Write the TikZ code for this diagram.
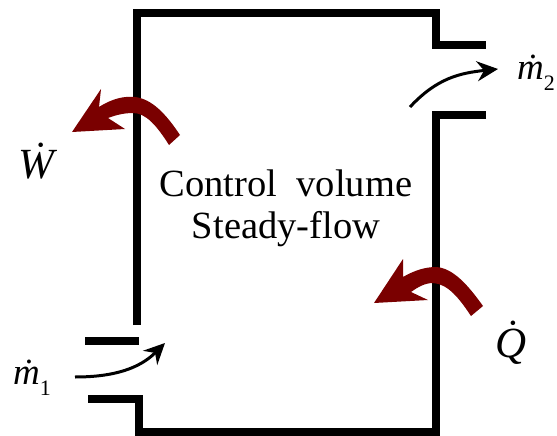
\documentclass[tikz,border=0pt]{standalone}
\usepackage{fontspec}
\setmainfont{Liberation Serif}
\usetikzlibrary{arrows.meta}
\definecolor{heatred}{RGB}{122,0,0}
\tikzset{
  wall/.style={line width=8pt,line cap=butt,line join=miter,black},
  flowarrow/.style={line width=3pt,black,-{Stealth[length=21pt,width=20pt,inset=7pt]}},
  bigarrow/.style={fill=heatred,draw=none},
  caption/.style={font=\fontsize{38.5}{38.5}\selectfont,inner sep=0pt},
  symbol/.style={font=\fontsize{43}{43}\selectfont\itshape,inner sep=0pt},
  flowsym/.style={font=\fontsize{37}{37}\selectfont\itshape,inner sep=0pt}
}
\newcommand{\subnum}[1]{\raisebox{-11pt}{\fontsize{22}{22}\selectfont\upshape #1}}
\begin{document}
\begin{tikzpicture}[x=1pt,y=-1pt]
\useasboundingbox (0,0) rectangle (557,436);
% control volume walls
\draw[wall] (136.5,325) -- (136.5,13) -- (436,13) -- (436,45) -- (486,45);
\draw[wall] (486,115) -- (436,115) -- (436,432) -- (139,432) -- (139,399) -- (88,399);
\draw[wall] (85,341) -- (139,341);
% labels
\node[caption] (cv) at (286,183) {Control\ \ volume};
\node[caption] (sf) at (286,229) {Steady-flow};
\node[flowsym,anchor=base west] (m1) at (13,384) {\.{m}\subnum{1}};
\node[flowsym,anchor=base west] (m2) at (517,80) {\.{m}\subnum{2}};
\node[symbol,anchor=base west] (w) at (18,178) {\.{W}};
\node[symbol,anchor=base west] (q) at (495,357) {\.{Q}};
% mass flow arrows
\coordinate (in1) at (75,377);
\coordinate (in2) at (165,343);
\coordinate (out1) at (410,107);
\coordinate (out2) at (498,69);
\draw[flowarrow] (in1) .. controls (115,377) and (140,368) .. (in2);
\draw[flowarrow] (out1) .. controls (437,78) and (460,73) .. (out2);
% work and heat arrows
\fill[bigarrow] (72,132) -- (101,89) -- (99,107)
  .. controls (113,98) and (125,96) .. (135,97)
  .. controls (152,99) and (166,114) .. (180,135)
  -- (169,145)
  .. controls (157,126) and (146,113) .. (133,113)
  .. controls (124,113) and (116,115) .. (108,118)
  -- (125,129) -- cycle;
\fill[bigarrow] (374,303) -- (403,259) -- (403,277)
  .. controls (415,270) and (426,267) .. (436,267)
  .. controls (453,268) and (468,285) .. (483,306)
  -- (471,316)
  .. controls (459,298) and (448,284) .. (433,283)
  .. controls (425,283) and (418,287) .. (411,292)
  -- (428,300) -- cycle;
\end{tikzpicture}
\end{document}
